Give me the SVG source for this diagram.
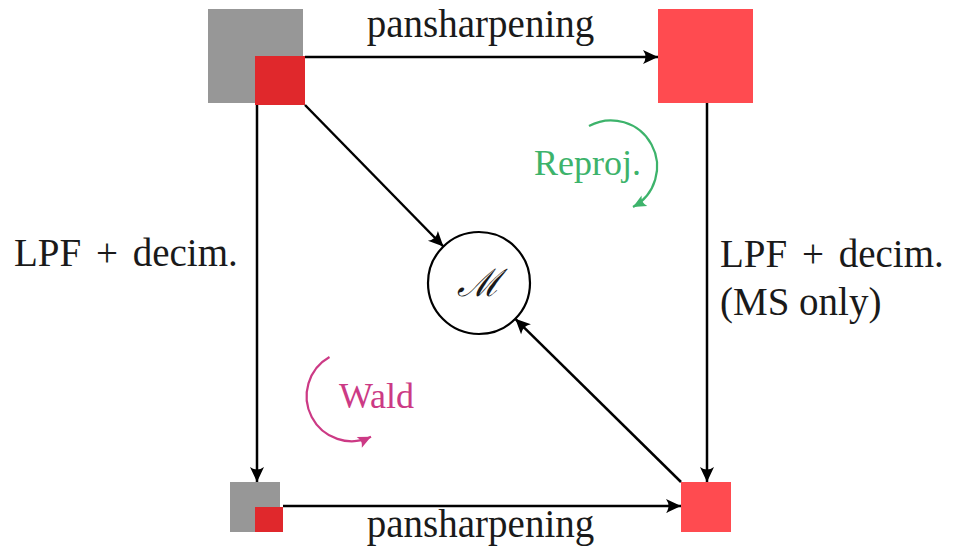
<svg xmlns="http://www.w3.org/2000/svg" width="953" height="553" viewBox="0 0 953 553">
  <style>
    .lbl { font-family: 'Liberation Serif', 'Times New Roman', serif; font-size: 39px; fill: #1a1a1a; }
    .small { font-size: 36px; }
    .conn { fill: none; stroke: #000; stroke-width: 2.5; }
    .gray { fill: #979797; }
    .red-dark { fill: #e0282c; }
    .red-light { fill: #ff4b50; }
    .reproj { fill: none; stroke: #3db36b; stroke-width: 2.2; }
    .wald { fill: none; stroke: #cc3a85; stroke-width: 2.2; }
  </style>
  <defs>
    <marker id="arrow" markerUnits="userSpaceOnUse" viewBox="-16 -8 17 16" markerWidth="17" markerHeight="16" refX="0" refY="0" orient="auto">
      <path d="M0,0 L-15,-7 Q-10,0 -15,7 Z" fill="#000"/>
    </marker>
    <marker id="arrow-green" markerUnits="userSpaceOnUse" viewBox="-14 -7 15 14" markerWidth="15" markerHeight="14" refX="0" refY="0" orient="auto">
      <path d="M0,0 L-13,-6 Q-9,0 -13,6 Z" fill="#3db36b"/>
    </marker>
    <marker id="arrow-magenta" markerUnits="userSpaceOnUse" viewBox="-14 -7 15 14" markerWidth="15" markerHeight="14" refX="0" refY="0" orient="auto">
      <path d="M0,0 L-13,-6 Q-9,0 -13,6 Z" fill="#cc3a85"/>
    </marker>
  </defs>

  <rect width="953" height="553" fill="#fff"/>

  <!-- connectors -->
  <g id="connectors">
    <path class="conn" d="M305,57 L658,57" marker-end="url(#arrow)"/>
    <path class="conn" d="M707,103 L707,482" marker-end="url(#arrow)"/>
    <path class="conn" d="M257,105 L257,482" marker-end="url(#arrow)"/>
    <path class="conn" d="M283,506 L681,506" marker-end="url(#arrow)"/>
    <path class="conn" d="M305,105 L443.4,246.5" marker-end="url(#arrow)"/>
    <path class="conn" d="M681,482 L515.3,318.8" marker-end="url(#arrow)"/>
    <path class="reproj" d="M589,126 A46,46 0 0 1 633,207" marker-end="url(#arrow-green)"/>
    <path class="wald" d="M329.5,357 A45,45 0 0 0 371,436.8" marker-end="url(#arrow-magenta)"/>
  </g>

  <!-- PAN + MS at full scale -->
  <g id="node-input">
    <rect class="gray" x="208" y="9" width="95" height="94"/>
    <rect class="red-dark" x="255" y="56" width="50" height="49"/>
  </g>

  <!-- pansharpened product -->
  <g id="node-fused">
    <rect class="red-light" x="658" y="9" width="95" height="94"/>
  </g>

  <!-- degraded PAN + MS -->
  <g id="node-input-reduced">
    <rect class="gray" x="230" y="482" width="50" height="50"/>
    <rect class="red-dark" x="255" y="507" width="28" height="25"/>
  </g>

  <!-- degraded fused product -->
  <g id="node-fused-reduced">
    <rect class="red-light" x="681" y="482" width="50" height="50"/>
  </g>

  <!-- metric -->
  <g id="node-metric">
    <circle cx="479" cy="283" r="51" fill="#fff" stroke="#000" stroke-width="2.2"/>
    <text x="479" y="296" text-anchor="middle" font-family="'DejaVu Serif', serif" font-style="italic" font-size="38" fill="#1a1a1a">ℳ</text>
  </g>

  <!-- labels -->
  <g id="labels">
    <text class="lbl" x="480.5" y="37" text-anchor="middle">pansharpening</text>
    <text class="lbl" x="480.5" y="537" text-anchor="middle">pansharpening</text>
    <text class="lbl" x="14" y="266" word-spacing="5">LPF + decim.</text>
    <text class="lbl" x="720" y="267" word-spacing="5">LPF + decim.</text>
    <text class="lbl" x="720" y="315">(MS only)</text>
    <text class="lbl small" x="534" y="175" fill="#3db36b" style="fill:#3db36b">Reproj.</text>
    <text class="lbl small" x="339" y="408" style="fill:#cc3a85">Wald</text>
  </g>
</svg>
